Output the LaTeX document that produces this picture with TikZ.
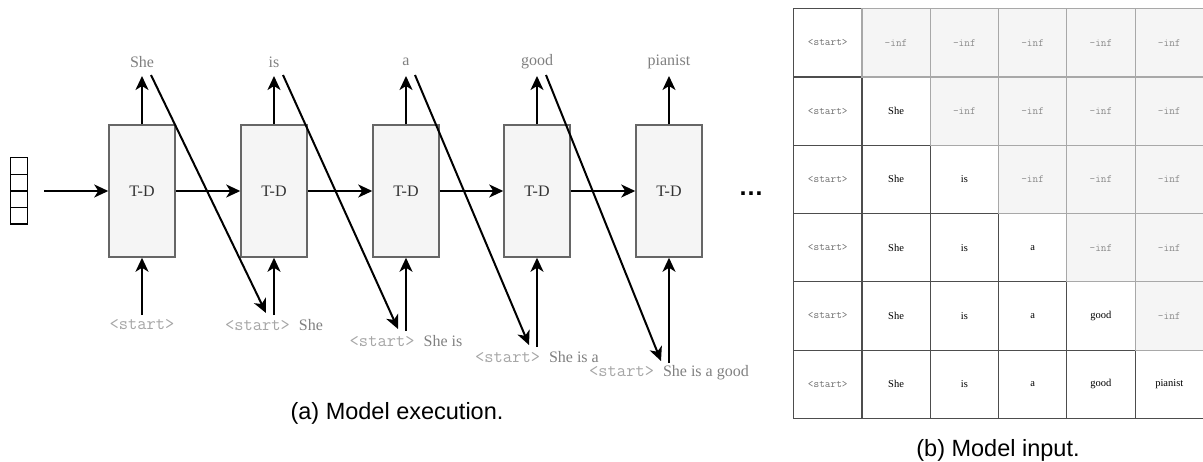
\documentclass[tikz,border=0pt]{standalone}
\usepackage{fontspec}
\setmainfont{Liberation Serif}
\newfontfamily\capfont{Liberation Sans}
\usetikzlibrary{arrows.meta}
\definecolor{boxfill}{HTML}{F5F5F5}
\definecolor{boxline}{HTML}{666666}
\definecolor{lblgray}{HTML}{808080}
\definecolor{ttgray}{HTML}{A6A6A6}
\definecolor{cellline}{HTML}{4D4D4D}
\definecolor{gline}{HTML}{A8A8A8}
\definecolor{tabtt}{HTML}{6E6E6E}
\definecolor{inftt}{HTML}{8A8A8A}
\newcommand{\tstart}{{\ttfamily\fontsize{18}{20}\selectfont\color{ttgray}<start>}}
\begin{document}
\begin{tikzpicture}[x=1pt,y=-1pt,
  tdbox/.style={draw=boxline, fill=boxfill, line width=1.5pt, minimum width=66pt, minimum height=132pt, inner sep=0pt, font=\fontsize{16}{19}\selectfont, text=black!80},
  flow/.style={line width=2pt, -{Stealth[length=14pt,width=13pt,inset=4pt]}},
  vecbox/.style={draw=black, line width=1.5pt, fill=white, minimum width=16.6pt, minimum height=16.6pt, inner sep=0pt},
  toplbl/.style={text=lblgray, font=\fontsize{16}{19}\selectfont, inner sep=0pt},
  botlbl/.style={text=lblgray, font=\fontsize{16}{19}\selectfont, inner sep=0pt},
  capstyle/.style={font=\capfont\fontsize{23.5}{28}\selectfont, inner sep=0pt},
  cellw/.style={draw=cellline, fill=white, line width=1.2pt, minimum width=68.3pt, minimum height=68.3pt, inner sep=0pt, anchor=north west, font=\fontsize{10.5}{12}\selectfont},
  cellg/.style={draw=gline, fill=boxfill, line width=1.2pt, minimum width=68.3pt, minimum height=68.3pt, inner sep=0pt, anchor=north west, font=\ttfamily\fontsize{11}{12}\selectfont, text=inftt},
]
\useasboundingbox (0,0) rectangle (1203,461);

% input vector
\node[vecbox] (v1) at (19,166) {};
\node[vecbox] (v2) at (19,182.6) {};
\node[vecbox] (v3) at (19,199.2) {};
\node[vecbox] (v4) at (19,215.8) {};
\coordinate (inp) at (44,191);

% decoder boxes
\node[tdbox] (td1) at (142,191) {T-D};
\node[tdbox] (td2) at (274,191) {T-D};
\node[tdbox] (td3) at (406,191) {T-D};
\node[tdbox] (td4) at (537,191) {T-D};
\node[tdbox] (td5) at (669,191) {T-D};

\draw[flow] (inp) -- (td1.west);
\draw[flow] (td1) -- (td2);
\draw[flow] (td2) -- (td3);
\draw[flow] (td3) -- (td4);
\draw[flow] (td4) -- (td5);

% outputs
\foreach \i/\x/\w in {1/142/She,2/274/is,3/406/a,4/537/good,5/669/pianist}{
  \coordinate (ot\i) at (\x,76);
  \draw[flow] (td\i.north) -- (ot\i);
  \node[toplbl] (out\i) at (\x,62) {\w};
}

% inputs
\coordinate (ib1) at (142,315);
\coordinate (ib2) at (274,315);
\coordinate (ib3) at (406,331);
\coordinate (ib4) at (537,347);
\coordinate (ib5) at (669,363);
\foreach \i in {1,...,5}{
  \draw[flow] (ib\i) -- (td\i.south);
}
\node[botlbl] (in1) at (142,325) {\tstart};
\node[botlbl] (in2) at (274,325) {\tstart\hspace{9pt}She};
\node[botlbl] (in3) at (406,341) {\tstart\hspace{9pt}She is};
\node[botlbl] (in4) at (537,357) {\tstart\hspace{9pt}She is a};
\node[botlbl] (in5) at (669,373) {\tstart\hspace{9pt}She is a good};

% feedback diagonals
\coordinate (ds1) at (151,75);  \coordinate (de1) at (266,313);
\coordinate (ds2) at (283,75);  \coordinate (de2) at (398,329);
\coordinate (ds3) at (415,75);  \coordinate (de3) at (529,345);
\coordinate (ds4) at (546,75);  \coordinate (de4) at (661,361);
\foreach \i in {1,...,4}{
  \draw[flow] (ds\i) -- (de\i);
}

% ellipsis
\node[inner sep=0pt, anchor=base, font=\capfont\bfseries\fontsize{25}{30}\selectfont] (dots) at (751,195.5) {…};

% caption a
\node[capstyle] (capa) at (397,413) {(a) Model execution.};

% table
\foreach \row in {1,...,6}{
  \node[cellw] (c-\row-1) at (793,{8+(\row-1)*68.3}) {\ttfamily\fontsize{11}{12}\selectfont\color{tabtt}<start>};
  \foreach \col/\w in {2/She,3/is,4/a,5/good,6/pianist}{
    \ifnum\col>\row\relax\else
      \node[cellw] (c-\row-\col) at ({793+(\col-1)*68.3},{8+(\row-1)*68.3}) {\w};
    \fi
  }
}
\foreach \row in {1,...,5}{
  \foreach \col in {2,...,6}{
    \ifnum\col>\row\relax
      \node[cellg] (c-\row-\col) at ({793+(\col-1)*68.3},{8+(\row-1)*68.3}) {-inf};
    \fi
  }
}

% caption b
\node[capstyle] (capb) at (998,450) {(b) Model input.};
\end{tikzpicture}
\end{document}
